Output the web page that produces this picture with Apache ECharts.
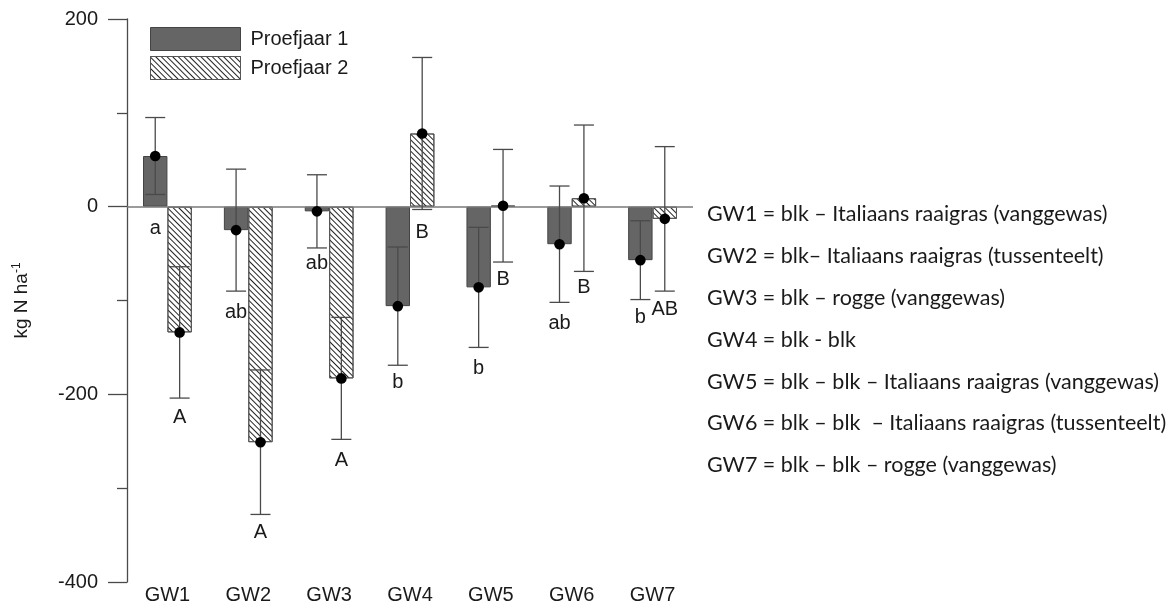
<!DOCTYPE html>
<html>
<head>
<meta charset="utf-8">
<script src="https://cdn.jsdelivr.net/npm/echarts@6/dist/echarts.min.js"></script>
<style>
  html, body { margin: 0; padding: 0; background: #fff; }
  #chart { width: 1171px; height: 605px; }
</style>
</head>
<body>
<div id="chart"></div>
<script>
// categorieën en waarden
const cats = ['GW1', 'GW2', 'GW3', 'GW4', 'GW5', 'GW6', 'GW7'];
const jaar1 = [54, -25, -5, -106, -86, -40, -57];
const err1 = [41, 65, 39, 63, 64, 62, 42];
const jaar2 = [-134, -251, -183, 78, 1, 9, -13];
const err2 = [70, 77, 65, 81, 60, 78, 77];
const letters1 = ['a', 'ab', 'ab', 'b', 'b', 'ab', 'b'];
const letterY1 = [-23, -113, -61, -187, -172, -124, -118];
const letters2 = ['A', 'A', 'A', 'B', 'B', 'B', 'AB'];
const letterY2 = [-225, -347, -271, -27, -78, -86, -110];
const descr = [
  'GW1 = blk \u2013 Italiaans raaigras (vanggewas)',
  'GW2 = blk\u2013 Italiaans raaigras (tussenteelt)',
  'GW3 = blk \u2013 rogge (vanggewas)',
  'GW4 = blk - blk',
  'GW5 = blk \u2013 blk \u2013 Italiaans raaigras (vanggewas)',
  'GW6 = blk \u2013 blk  \u2013 Italiaans raaigras (tussenteelt)',
  'GW7 = blk \u2013 blk \u2013 rogge (vanggewas)'
];

const font = 'Liberation Sans, Arial, sans-serif';
const barW = 24.4;

function errRender(offset, letters) {
  return function (params, api) {
    const i = api.value(0), m = api.value(1), e = api.value(2), ly = api.value(3);
    const top = api.coord([i, m + e]);
    const bot = api.coord([i, m - e]);
    const mid = api.coord([i, m]);
    const lab = api.coord([i, ly]);
    const x = mid[0] + offset;
    const ls = { stroke: '#4a4a4a', lineWidth: 1.3 };
    return {
      type: 'group',
      children: [
        { type: 'line', shape: { x1: x, y1: top[1], x2: x, y2: bot[1] }, style: ls },
        { type: 'line', shape: { x1: x - 10, y1: top[1], x2: x + 10, y2: top[1] }, style: ls },
        { type: 'line', shape: { x1: x - 10, y1: bot[1], x2: x + 10, y2: bot[1] }, style: ls },
        { type: 'circle', shape: { cx: x, cy: mid[1], r: 5.3 }, style: { fill: '#000' } },
        {
          type: 'text',
          style: {
            text: letters[params.dataIndex], x: x, y: lab[1],
            align: 'center', verticalAlign: 'middle',
            font: '20px ' + font, fill: '#1a1a1a'
          }
        }
      ]
    };
  };
}

const chart = echarts.init(document.getElementById('chart'));

chart.setOption({
  animation: false,
  grid: { left: 127, right: 478, top: 19, bottom: 22 },
  legend: {
    data: ['Proefjaar 1', 'Proefjaar 2'],
    orient: 'vertical',
    left: 150,
    top: 27,
    padding: 0,
    itemWidth: 90,
    itemHeight: 23,
    itemGap: 5,
    icon: 'rect',
    itemStyle: { borderWidth: 1 },
    textStyle: { fontSize: 20, fontFamily: font, color: '#1a1a1a', padding: [0, 0, 0, 5] }
  },
  xAxis: {
    type: 'category',
    data: cats,
    axisLine: { show: false },
    axisTick: { show: false },
    axisLabel: { margin: 3, fontSize: 20, fontFamily: font, color: '#1a1a1a' }
  },
  yAxis: {
    type: 'value',
    min: -400,
    max: 200,
    interval: 200,
    name: '{a|kg N ha}{s|-1}',
    nameLocation: 'middle',
    nameGap: 94,
    nameTextStyle: {
      rich: {
        a: { fontSize: 19, fontFamily: font, color: '#1a1a1a' },
        s: { fontSize: 12, fontFamily: font, color: '#1a1a1a', padding: [0, 0, 10, 0] }
      }
    },
    axisLine: { show: true, lineStyle: { color: '#4a4a4a', width: 1.3 } },
    axisTick: { show: true, length: 19, lineStyle: { color: '#4a4a4a', width: 1.3 } },
    minorTick: { show: true, splitNumber: 2, length: 10, lineStyle: { color: '#4a4a4a', width: 1.3 } },
    splitLine: { show: false },
    axisLabel: { margin: 29, fontSize: 20, fontFamily: font, color: '#1a1a1a' }
  },
  graphic: descr.map((t, k) => ({
    type: 'text',
    left: 707,
    top: 203 + k * 41.9,
    style: { text: t, font: '21.5px Lato, sans-serif', fill: '#1a1a1a' }
  })),
  series: [
    {
      name: 'Proefjaar 1',
      type: 'bar',
      data: jaar1,
      barWidth: barW,
      barGap: '0%',
      itemStyle: { color: '#656565', borderColor: '#444', borderWidth: 1 },
      markLine: {
        silent: true,
        symbol: 'none',
        label: { show: false },
        lineStyle: { color: '#7a7a7a', width: 1.5, type: 'solid' },
        data: [{ yAxis: 0 }]
      }
    },
    {
      name: 'Proefjaar 2',
      type: 'bar',
      data: jaar2,
      barWidth: barW,
      barGap: '0%',
      itemStyle: {
        color: '#fff',
        borderColor: '#555',
        borderWidth: 1,
        decal: {
          symbol: 'rect',
          symbolSize: 1,
          color: '#222',
          dashArrayX: [1, 0],
          dashArrayY: [1, 3],
          rotation: Math.PI / 4
        }
      }
    },
    {
      type: 'custom',
      renderItem: errRender(-barW / 2, letters1),
      data: jaar1.map((v, i) => [i, v, err1[i], letterY1[i]]),
      z: 5
    },
    {
      type: 'custom',
      renderItem: errRender(barW / 2, letters2),
      data: jaar2.map((v, i) => [i, v, err2[i], letterY2[i]]),
      z: 5
    }
  ]
});
</script>
</body>
</html>
